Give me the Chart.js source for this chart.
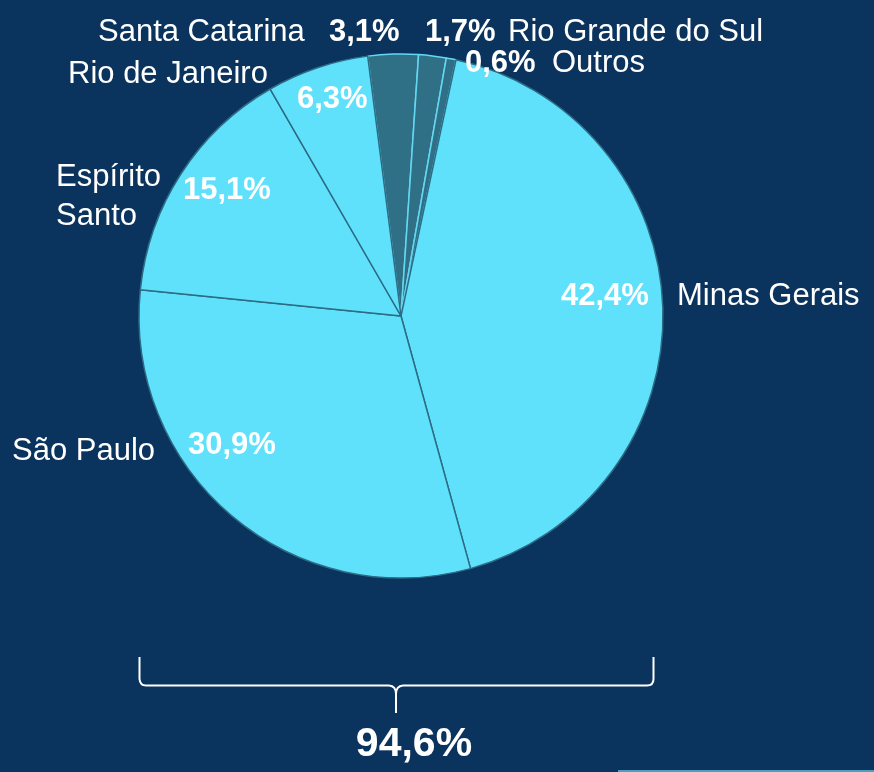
<!DOCTYPE html>
<html>
<head>
<meta charset="utf-8">
<script src="https://cdn.jsdelivr.net/npm/chart.js@4/dist/chart.umd.min.js"></script>
<style>
  html, body { margin: 0; padding: 0; background: #0a335d; }
  #wrap { width: 874px; height: 772px; }
</style>
</head>
<body>
<div id="wrap"><canvas id="pie" width="874" height="772"></canvas></div>
<script>
// data, clockwise from the top
const states = ['Santa Catarina', 'Rio Grande do Sul', 'Outros', 'Minas Gerais', 'São Paulo', 'Espírito Santo', 'Rio de Janeiro'];
const shares = [3.1, 1.7, 0.6, 42.4, 30.9, 15.1, 6.3];
const highlighted = [false, false, false, true, true, true, true];
const bracketTotal = '94,6%';

const BG = '#0a335d';
const CYAN = '#5fe1fc';
const TEAL = '#2f7086';
const FONT = '"Liberation Sans", Arial, sans-serif';

// where the texts go (name lines + percentage)
const namePos = [
    { x: 98, y: 41, lines: ['Santa Catarina'] },
    { x: 508, y: 41, lines: ['Rio Grande do Sul'] },
    { x: 552, y: 72, lines: ['Outros'] },
    { x: 677, y: 305, lines: ['Minas Gerais'] },
    { x: 12, y: 460, lines: ['São Paulo'] },
    { x: 56, y: 186, lines: ['Espírito', 'Santo'] },
    { x: 68, y: 83, lines: ['Rio de Janeiro'] }
];
const pctPos = [
    { x: 329, y: 41 },
    { x: 425, y: 41 },
    { x: 465, y: 72 },
    { x: 561, y: 305 },
    { x: 188, y: 454 },
    { x: 183, y: 199 },
    { x: 297, y: 108 }
];

const fmt = v => v.toFixed(1).replace('.', ',') + '%';

const backdrop = {
    id: 'backdrop',
    beforeDraw(chart) {
        const ctx = chart.ctx;
        ctx.save();
        ctx.fillStyle = BG;
        ctx.fillRect(0, 0, chart.width, chart.height);
        ctx.restore();
    }
};

const annotations = {
    id: 'annotations',
    afterDraw(chart) {
        const ctx = chart.ctx;
        ctx.save();
        ctx.fillStyle = '#ffffff';
        ctx.textAlign = 'left';
        ctx.textBaseline = 'alphabetic';

        states.forEach((s, i) => {
            ctx.font = '31px ' + FONT;
            namePos[i].lines.forEach((line, k) => {
                ctx.fillText(line, namePos[i].x, namePos[i].y + k * 39);
            });
            ctx.font = 'bold 31px ' + FONT;
            ctx.fillText(fmt(shares[i]), pctPos[i].x, pctPos[i].y);
        });

        // curly brace under the pie
        ctx.strokeStyle = '#ffffff';
        ctx.lineWidth = 2;
        ctx.beginPath();
        ctx.moveTo(139.5, 657);
        ctx.lineTo(139.5, 679);
        ctx.quadraticCurveTo(140, 685.5, 146, 685.5);
        ctx.lineTo(389, 685.5);
        ctx.quadraticCurveTo(396, 686, 396, 694);
        ctx.lineTo(396, 713);
        ctx.moveTo(396, 694);
        ctx.quadraticCurveTo(396, 686, 403, 685.5);
        ctx.lineTo(647, 685.5);
        ctx.quadraticCurveTo(653.5, 685.5, 653.5, 679);
        ctx.lineTo(653.5, 657);
        ctx.stroke();

        ctx.font = 'bold 41px ' + FONT;
        ctx.textAlign = 'center';
        ctx.fillText(bracketTotal, 414, 756);

        // thin strip at the bottom right
        ctx.strokeStyle = '#4f9fbc';
        ctx.lineWidth = 2;
        ctx.beginPath();
        ctx.moveTo(618, 771);
        ctx.lineTo(874, 771);
        ctx.stroke();
        ctx.restore();
    }
};

new Chart(document.getElementById('pie'), {
    type: 'pie',
    data: {
        labels: states,
        datasets: [{
            data: shares,
            backgroundColor: highlighted.map(h => h ? CYAN : TEAL),
            borderColor: highlighted.map(h => h ? '#2c6c85' : '#64d8f2'),
            borderWidth: 1.5
        }]
    },
    options: {
        responsive: false,
        animation: false,
        rotation: -7.3,
        radius: 262,
        layout: {
            padding: { left: 139, right: 211, top: 54, bottom: 194 }
        },
        plugins: {
            legend: { display: false },
            tooltip: { enabled: false }
        }
    },
    plugins: [backdrop, annotations]
});
</script>
</body>
</html>
